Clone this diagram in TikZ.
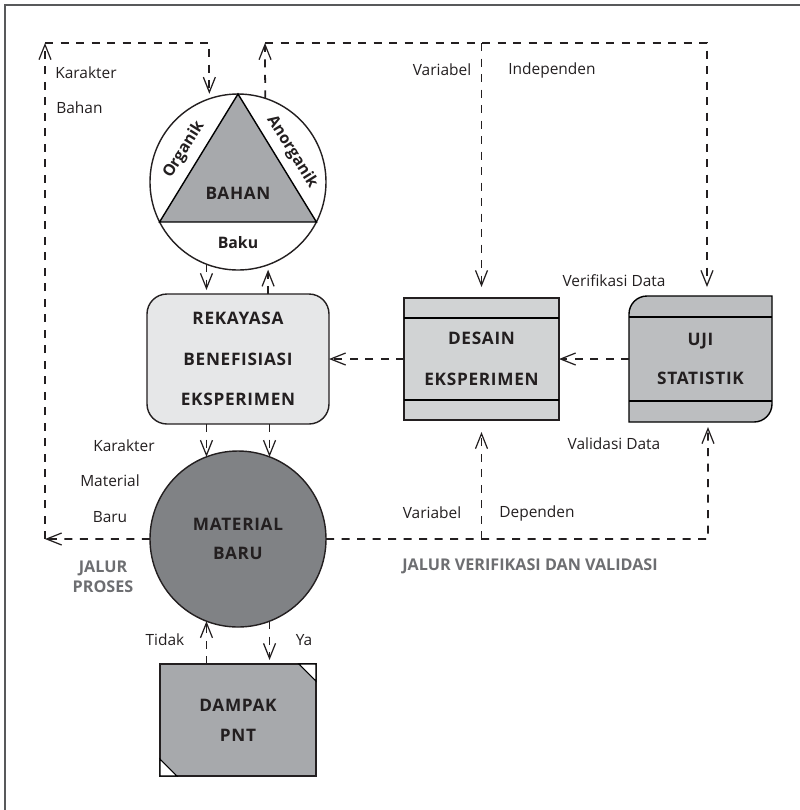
\documentclass[tikz,border=0pt]{standalone}
\usepackage{fontspec}
\setmainfont{Open Sans}
\newfontfamily\capsfont[LetterSpace=4]{Open Sans}
\usepackage{tikz}
\usetikzlibrary{arrows.meta,positioning,backgrounds}
\definecolor{ink}{HTML}{231F20}
\definecolor{framec}{HTML}{58595B}
\definecolor{lanec}{HTML}{6D6E71}
\definecolor{tribg}{HTML}{A7A9AC}
\definecolor{rekbg}{HTML}{E6E7E8}
\definecolor{matbg}{HTML}{808285}
\definecolor{desbg}{HTML}{D1D3D4}
\definecolor{ujibg}{HTML}{BCBEC0}
\definecolor{dambg}{HTML}{A7A9AC}

\begin{document}
\begin{tikzpicture}[
  x=0.2mm,y=-0.2mm,
  font=\fontsize{8.8}{10}\selectfont, text=ink,
  lbl/.style={inner sep=0pt},
  head/.style={font=\capsfont\bfseries\fontsize{9.8}{23}\selectfont,align=center},
  side/.style={font=\bfseries\fontsize{9}{11}\selectfont,inner sep=0pt},
  lane/.style={font=\bfseries\fontsize{9.2}{11.5}\selectfont,text=lanec,align=center},
  ball/.style={circle,draw=ink,line width=0.8pt,minimum size=35.2mm,inner sep=0pt,outer sep=0pt},
  box/.style={draw=ink,line width=0.8pt,inner sep=0pt,outer sep=0pt},
  flow/.style={-{Straight Barb[length=3mm,width=2.4mm,line width=0.7pt]},draw=ink,line width=1pt,dash pattern=on 1.6mm off 1.5mm},
]
\useasboundingbox (0,0) rectangle (800,810);
\draw[framec,line width=0.8pt] (5,810) -- (5,5) -- (800,5);

\node[ball,fill=white] (bahan) at (238,182) {};
\draw[line width=0.8pt,fill=tribg] (bahan.90) -- (bahan.207) -- (bahan.-27) -- cycle;
\node[head] (bahantxt) at (238,193) {BAHAN};
\node[side] (baku) at (238,243) {Baku};
\node[side,rotate=58] (org) at (184,150) {Organik};
\node[side,rotate=-58] (anorg) at (292,152) {Anorganik};

\node[box,head,fill=rekbg,rounded corners=4mm,minimum width=36.4mm,minimum height=26mm,below=4.8mm of bahan] (rek) {REKAYASA\\BENEFISIASI\\EKSPERIMEN};
\node[ball,head,fill=matbg,font=\capsfont\bfseries\fontsize{9.8}{16.5}\selectfont,below=5.4mm of rek] (mat) {MATERIAL\\BARU};
\node[box,head,fill=dambg,font=\capsfont\bfseries\fontsize{9.8}{17}\selectfont,minimum width=31.2mm,minimum height=22.4mm,below=7.4mm of mat] (dam) {DAMPAK\\PNT};
\node[box,head,fill=desbg,minimum width=31mm,minimum height=24.4mm,right=15mm of rek] (des) {DESAIN\\EKSPERIMEN};
\node[head,font=\capsfont\bfseries\fontsize{9.8}{22}\selectfont,inner sep=0pt,outer sep=0pt,minimum width=28.6mm,minimum height=25.2mm,right=14mm of des] (uji) {UJI\\STATISTIK};

\begin{scope}[on background layer]
\draw[line width=0.8pt,fill=ujibg] (uji.north east) -- ([xshift=3.6mm]uji.north west)
  arc[start angle=90,end angle=180,radius=3.6mm] -- (uji.south west)
  -- ([xshift=-3.6mm]uji.south east) arc[start angle=270,end angle=360,radius=3.6mm] -- cycle;
\end{scope}
\draw[line width=0.8pt] ([yshift=-4mm]des.north west) -- ([yshift=-4mm]des.north east);
\draw[line width=0.8pt] ([yshift=4mm]des.south west) -- ([yshift=4mm]des.south east);
\draw[line width=0.8pt] ([yshift=-4.2mm]uji.north west) -- ([yshift=-4.2mm]uji.north east);
\draw[line width=0.8pt] ([yshift=4.2mm]uji.south west) -- ([yshift=4.2mm]uji.south east);
\draw[line width=0.6pt,fill=white] (dam.north east) -- ([xshift=-3.4mm]dam.north east) -- ([yshift=-3.4mm]dam.north east) -- cycle;
\draw[line width=0.6pt,fill=white] (dam.south west) -- ([yshift=3.4mm]dam.south west) -- ([xshift=3.4mm]dam.south west) -- cycle;

\node[lbl,anchor=west] (kb1) at (55,73) {Karakter};
\node[lbl,anchor=west] (kb2) at (56,108) {Bahan};
\node[lbl] (vi1) at (442,70) {Variabel};
\node[lbl] (vi2) at (552,70) {Independen};
\node[lbl] (verif) at (614,281) {Verifikasi Data};
\node[lbl] (valid) at (614,444) {Validasi Data};
\node[lbl] (km1) at (124,446) {Karakter};
\node[lbl] (km2) at (110,481) {Material};
\node[lbl] (km3) at (110,517) {Baru};
\node[lane] (proses) at (103,577) {JALUR\\PROSES};
\node[lbl] (tidak) at (165,640) {Tidak};
\node[lbl] (ya) at (304,640) {Ya};
\node[lbl] (vd1) at (432,513) {Variabel};
\node[lbl] (vd2) at (537,513) {Dependen};
\node[lane] (verval) at (530,566) {JALUR VERIFIKASI DAN VALIDASI};

\coordinate (tl) at (45,43);
\coordinate (bl) at (45,539);
\coordinate (tr0) at (265,43);
\coordinate (tr1) at (707,43);
\coordinate (br) at (708,539);

\draw[flow] (mat.west) -- (bl);
\draw[flow] (bl) -- (tl);
\draw[flow,shorten >=1mm] (tl) -| (bahan.109);
\draw[flow] (bahan.72) -- (tr0);
\draw[flow,shorten >=1.8mm] (tr0) -- (tr1) -- (tr1 |- uji.north);
\draw[flow,shorten >=2.2mm] (des.north |- tr0) -- (des.north);
\draw[flow,shorten >=1mm] (mat.east) -- (br) -- (br |- uji.south);
\draw[flow,shorten >=2.4mm] (des.south |- br) -- (des.south);
\draw[flow,shorten >=0.8mm] (bahan.-111) -- (bahan.-111 |- rek.north);
\draw[flow,shorten >=1mm] (rek.north -| bahan.-70) -- (bahan.-70);
\draw[flow] (rek.south -| mat.111) -- (mat.111);
\draw[flow] (rek.south -| mat.69) -- (mat.69);
\draw[flow] (dam.north -| mat.-111) -- (mat.-111);
\draw[flow,shorten >=0.8mm] (mat.-69) -- (mat.-69 |- dam.north);
\draw[flow] (uji.west) -- (des.east);
\draw[flow] (des.west) -- (rek.east);
\end{tikzpicture}
\end{document}
